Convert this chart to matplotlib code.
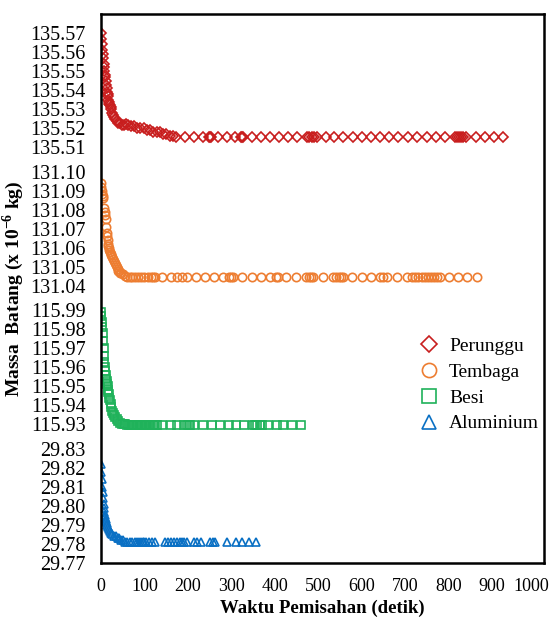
import numpy as np
import matplotlib.pyplot as plt
from matplotlib.transforms import ScaledTranslation

plt.rcParams['font.family'] = ['Liberation Serif', 'DejaVu Serif']
plt.rcParams['mathtext.fontset'] = 'custom'
plt.rcParams['mathtext.rm'] = 'Liberation Serif'
plt.rcParams['mathtext.bf'] = 'Liberation Serif:bold'

# ---- data ----
t_perunggu = [0, 1, 2, 3, 4, 5, 6, 7, 8, 9, 10, 11, 12, 13, 14, 15, 16, 17, 18, 19, 20,
              22, 24, 26, 28, 30, 33, 36, 40, 44, 48, 52, 57, 62, 68, 75, 82, 90, 98,
              105, 112, 120, 128, 135, 142, 150, 158, 165, 172,
              193, 214, 234, 249, 251, 253, 269, 289, 309, 322, 324, 326, 347, 368, 389,
              410, 431, 451, 474, 480, 486, 491, 497, 517, 537, 557, 580, 600, 621, 642,
              663, 684, 707, 728, 750, 771, 792, 815, 820, 825, 830, 834, 840, 863, 884,
              905, 926]
m_perunggu = [135.570, 135.567, 135.564, 135.561, 135.559, 135.557, 135.554, 135.552,
              135.550, 135.548, 135.547, 135.545, 135.543, 135.541, 135.539, 135.538,
              135.537, 135.535, 135.534, 135.533, 135.532, 135.531, 135.530, 135.528,
              135.527, 135.526, 135.525, 135.524, 135.523, 135.523, 135.522, 135.522,
              135.5225, 135.522, 135.521, 135.521, 135.520, 135.520, 135.520, 135.519,
              135.519, 135.518, 135.518, 135.518, 135.517, 135.517, 135.516, 135.516,
              135.5155,
              135.5155, 135.5155, 135.5155, 135.5155, 135.5155, 135.5155, 135.5155,
              135.5155, 135.5155, 135.5155, 135.5155, 135.5155, 135.5155, 135.5155,
              135.5155, 135.5155, 135.5155, 135.5155, 135.5155, 135.5155, 135.5155,
              135.5155, 135.5155, 135.5155, 135.5155, 135.5155, 135.5155, 135.5155,
              135.5155, 135.5155, 135.5155, 135.5155, 135.5155, 135.5155, 135.5155,
              135.5155, 135.5155, 135.5155, 135.5155, 135.5155, 135.5155, 135.5155,
              135.5155, 135.5155, 135.5155, 135.5155, 135.5155]

t_tembaga = [0, 1, 2, 3, 4, 5, 8, 9, 10, 11, 12, 13, 14, 15, 16, 17, 18, 19, 20, 22, 24,
             26, 28, 30, 32, 34, 36, 38, 40, 42, 44, 47, 50, 55, 60, 66, 72, 78, 85, 92,
             100, 108, 115, 120, 125, 140, 160, 175,
             186, 197, 219, 240, 260, 281, 295, 300, 304, 325, 347, 368, 389, 403, 407,
             427, 449, 472, 478, 483, 488, 510, 535, 541, 547, 552, 557, 577, 600, 621,
             642, 650, 658, 681, 704, 715, 722, 730, 738, 745, 752, 760, 766, 773, 781,
             801, 822, 843, 865]
m_tembaga = [131.094, 131.092, 131.090, 131.088, 131.087, 131.086, 131.081, 131.079,
             131.077, 131.075, 131.071, 131.068, 131.066, 131.064, 131.062, 131.061,
             131.060, 131.059, 131.058, 131.057, 131.056, 131.055, 131.054, 131.053,
             131.052, 131.051, 131.050, 131.049, 131.048, 131.048, 131.047, 131.047,
             131.046, 131.045, 131.0447, 131.0446, 131.0446, 131.0445, 131.0445,
             131.0445, 131.0445, 131.0445, 131.0445, 131.0445, 131.0445, 131.0445,
             131.0445, 131.0445,
             131.0445, 131.0445, 131.0445, 131.0445, 131.0445, 131.0445, 131.0445,
             131.0445, 131.0445, 131.0445, 131.0445, 131.0445, 131.0445, 131.0445,
             131.0445, 131.0445, 131.0445, 131.0445, 131.0445, 131.0445, 131.0445,
             131.0445, 131.0445, 131.0445, 131.0445, 131.0445, 131.0445, 131.0445,
             131.0445, 131.0445, 131.0445, 131.0445, 131.0445, 131.0445, 131.0445,
             131.0445, 131.0445, 131.0445, 131.0445, 131.0445, 131.0445, 131.0445,
             131.0445, 131.0445, 131.0445, 131.0445, 131.0445, 131.0445, 131.0445]

t_besi = [0, 1, 2, 3, 4, 5, 6, 7, 8, 9, 10, 11, 12, 13, 14, 15, 16, 17, 18, 19, 20, 22,
          24, 26, 28, 30, 33, 36, 40, 44, 48, 52, 56, 60, 65, 68, 71, 74, 77, 80, 83, 86,
          89, 92, 95, 98, 101, 104, 107, 110, 113, 116, 119, 122, 125, 128,
          140, 160, 175, 190, 198, 202, 206, 215, 235, 255, 275, 295, 310, 330, 350,
          355, 360, 365, 370, 385, 405, 420, 440, 460]
m_besi = [115.989, 115.987, 115.984, 115.981, 115.978, 115.974, 115.970, 115.966,
          115.963, 115.960, 115.958, 115.956, 115.954, 115.953, 115.951, 115.950,
          115.948, 115.947, 115.946, 115.944, 115.943, 115.941, 115.939, 115.937,
          115.936, 115.935, 115.934, 115.933, 115.932, 115.931, 115.9305, 115.930,
          115.930, 115.9295, 115.9295, 115.9295, 115.9295, 115.9295, 115.9295,
          115.9295, 115.9295, 115.9295, 115.9295, 115.9295, 115.9295, 115.9295,
          115.9295, 115.9295, 115.9295, 115.9295, 115.9295, 115.9295, 115.9295,
          115.9295, 115.9295, 115.9295,
          115.9295, 115.9295, 115.9295, 115.9295, 115.9295, 115.9295, 115.9295,
          115.9295, 115.9295, 115.9295, 115.9295, 115.9295, 115.9295, 115.9295,
          115.9295, 115.9295, 115.9295, 115.9295, 115.9295, 115.9295, 115.9295,
          115.9295, 115.9295, 115.9295]

t_aluminium = [0, 1, 2, 3, 4, 5, 6, 7, 8, 9, 10, 11, 12, 13, 14, 16, 18, 20, 23, 26, 30,
               34, 38, 42, 46, 50, 55, 60, 66, 72, 78, 84, 88, 92, 96, 100, 104, 110, 118,
               125, 148, 155, 162, 168, 175, 182, 186, 190, 198, 215, 220, 230, 250, 258,
               262, 290, 310, 325, 340, 358]
m_aluminium = [29.822, 29.818, 29.814, 29.810, 29.807, 29.804, 29.801, 29.799, 29.797,
               29.795, 29.794, 29.793, 29.792, 29.791, 29.790, 29.789, 29.788, 29.787,
               29.786, 29.785, 29.784, 29.784, 29.783, 29.783, 29.782, 29.782, 29.781,
               29.781, 29.781, 29.781, 29.781, 29.781, 29.781, 29.781, 29.781, 29.781,
               29.781, 29.781, 29.781, 29.781, 29.781, 29.781, 29.781, 29.781, 29.781,
               29.781, 29.781, 29.781, 29.781, 29.781, 29.781, 29.781, 29.781, 29.781,
               29.781, 29.781, 29.781, 29.781, 29.781, 29.781]

y_ticks = [29.77, 29.78, 29.79, 29.80, 29.81, 29.82, 29.83,
           115.93, 115.94, 115.95, 115.96, 115.97, 115.98, 115.99,
           131.04, 131.05, 131.06, 131.07, 131.08, 131.09, 131.10,
           135.51, 135.52, 135.53, 135.54, 135.55, 135.56, 135.57]
x_ticks = [0, 100, 200, 300, 400, 500, 600, 700, 800, 900, 1000]

# stacked y axis: each material gets its own 0.06-wide band
knot_mass = [29.765, 29.835, 115.925, 115.995, 131.035, 131.105, 135.505, 135.585]
knot_pos = [-0.5, 6.5, 6.77, 13.77, 14.04, 21.04, 21.31, 29.31]


def fwd(m):
    return np.interp(m, knot_mass, knot_pos)


def inv(p):
    return np.interp(p, knot_pos, knot_mass)


fig = plt.figure(figsize=(5.52, 6.25), dpi=100)
ax = fig.add_axes([0.183, 0.0992, 0.8025, 0.8784])
ax.set_yscale('function', functions=(fwd, inv))

series = [
    (t_perunggu, m_perunggu, 'D', '#C81E1E', 'Perunggu', 5.0),
    (t_tembaga, m_tembaga, 'o', '#ED7D31', 'Tembaga', 6.0),
    (t_besi, m_besi, 's', '#1FB25A', 'Besi', 5.8),
    (t_aluminium, m_aluminium, '^', '#0A70C4', 'Aluminium', 6.2),
]
for t, m, mk, col, lab, ms in series:
    ax.plot(t, m, linestyle='none', marker=mk, markersize=ms, markerfacecolor='none',
            markeredgecolor=col, markeredgewidth=1.2, label=lab)

ax.set_xlim(0, 1020)
ax.set_ylim(29.77, inv(28.81))
ax.set_xticks(x_ticks)
ax.set_yticks(y_ticks)
ax.set_yticklabels(['%.2f' % v for v in y_ticks])
ax.minorticks_off()
ax.tick_params(axis='both', length=0)
ax.tick_params(axis='y', pad=11, labelsize=14.5)
ax.tick_params(axis='x', pad=11, labelsize=13)
for s in ax.spines.values():
    s.set_linewidth(1.8)
    s.set_color('black')

ax.set_xlabel('Waktu Pemisahan (detik)', fontsize=13.5, fontweight='bold', labelpad=3)
ax.set_ylabel(r'Massa  Batang (x 10$^{\mathbf{-6}}$ kg)', fontsize=14, fontweight='bold',
              labelpad=3)

ax.legend(loc='upper left', bbox_to_anchor=(0.7, 0.425), frameon=False, fontsize=14,
          markerscale=1.7, handlelength=1.0, handletextpad=0.55, labelspacing=0.42,
          borderaxespad=0)

# keep the last x tick label inside the picture, as in the reference
last = ax.get_xticklabels()[-1]
last.set_transform(last.get_transform() + ScaledTranslation(-3 / 72, 0, fig.dpi_scale_trans))

fig.savefig('out.png', dpi=100)
